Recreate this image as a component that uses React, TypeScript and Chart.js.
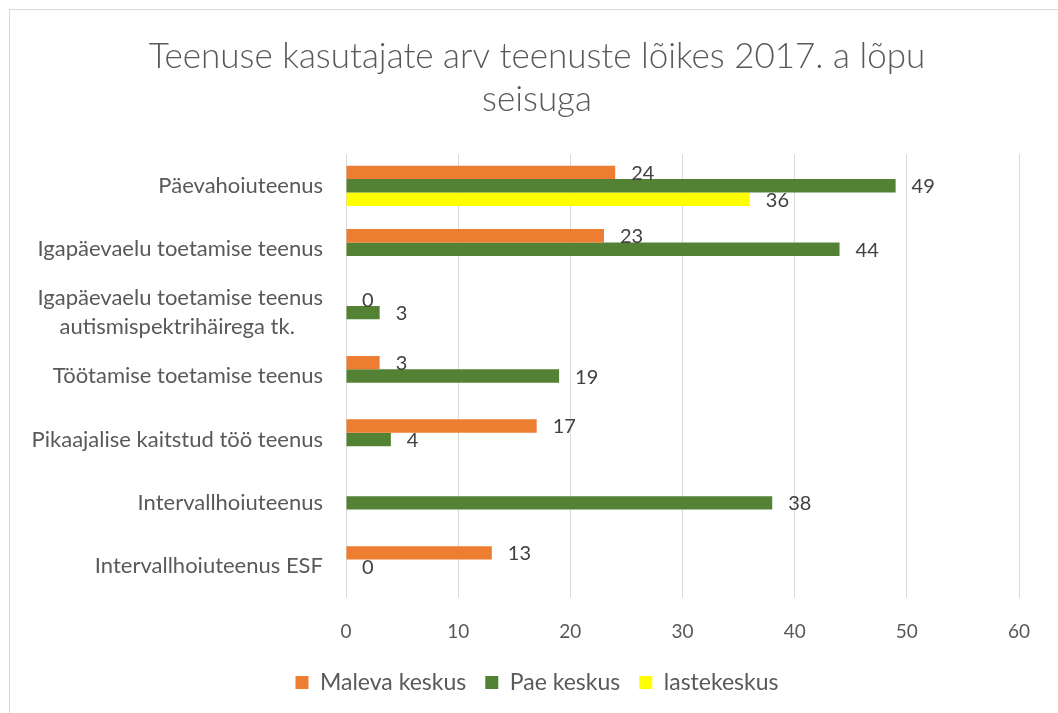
import React, { useEffect, useRef } from "react";
import { Chart, registerables } from "chart.js";

Chart.register(...registerables);

const categories: (string | string[])[] = [
  "Päevahoiuteenus",
  "Igapäevaelu toetamise teenus",
  ["Igapäevaelu toetamise teenus", "autismispektrihäirega tk.     "],
  "Töötamise toetamise teenus",
  "Pikaajalise kaitstud töö teenus",
  "Intervallhoiuteenus",
  "Intervallhoiuteenus ESF",
];
const malevaValues: (number | null)[] = [24, 23, 0, 3, 17, null, 13];
const paeValues: (number | null)[] = [49, 44, 3, 19, 4, 38, 0];
const lasteValues: (number | null)[] = [36, null, null, null, null, null, null];
const xTicks = [0, 10, 20, 30, 40, 50, 60];
const titleLines = ["Teenuse kasutajate arv teenuste lõikes 2017. a lõpu", "seisuga"];

const FONT = "Lato, 'Open Sans', sans-serif";
const TEXT = "#595959";

const valueLabels = {
  id: "valueLabels",
  afterDatasetsDraw(chart: any) {
    const ctx = chart.ctx;
    ctx.save();
    ctx.font = `20px ${FONT}`;
    ctx.fillStyle = "#404040";
    ctx.textAlign = "left";
    ctx.textBaseline = "middle";
    chart.data.datasets.forEach((ds: any, i: number) => {
      const meta = chart.getDatasetMeta(i);
      meta.data.forEach((el: any, j: number) => {
        const v = ds.data[j];
        if (v === null || v === undefined) return;
        ctx.fillText(String(v), el.x + 16, el.y + 1);
      });
    });
    ctx.restore();
  },
};

export default function App() {
  const ref = useRef<HTMLCanvasElement>(null);
  useEffect(() => {
    if (!ref.current) return;
    const chart = new Chart(ref.current, {
      type: "bar",
      data: {
        labels: categories,
        datasets: [
          { label: "Maleva keskus", data: malevaValues, backgroundColor: "#ED7D31" },
          { label: "Pae keskus", data: paeValues, backgroundColor: "#548235" },
          { label: "lastekeskus", data: lasteValues, backgroundColor: "#FFFF00" },
        ],
      },
      options: {
        indexAxis: "y",
        responsive: false,
        animation: false,
        devicePixelRatio: 1,
        datasets: { bar: { barPercentage: 1, categoryPercentage: 0.635 } },
        layout: { padding: { left: 16, right: 0, top: 20, bottom: 9 } },
        scales: {
          x: {
            min: 0,
            max: 60,
            afterBuildTicks: (s: any) => {
              s.ticks = xTicks.map((v) => ({ value: v }));
            },
            afterFit: (s: any) => {
              s.height = 54;
            },
            grid: { color: "#d9d9d9", drawTicks: false },
            border: { display: false },
            ticks: { padding: 22, color: TEXT, font: { family: FONT, size: 19 } },
          },
          y: {
            afterFit: (s: any) => {
              s.width = 330;
            },
            grid: { display: false, drawTicks: false },
            border: { display: false },
            ticks: { padding: 23, color: TEXT, font: { family: FONT, size: 22, lineHeight: 1.3 } },
          },
          yRight: {
            type: "linear",
            position: "right",
            afterFit: (s: any) => {
              s.width = 39;
            },
            grid: { display: false, drawTicks: false },
            border: { display: false },
            ticks: { display: false },
          },
        },
        plugins: {
          title: {
            display: true,
            text: titleLines,
            color: TEXT,
            font: { family: FONT, size: 35, weight: "300", lineHeight: 1.23 },
            padding: { top: 15, bottom: 33 },
          },
          legend: {
            position: "bottom",
            labels: {
              boxWidth: 13,
              boxHeight: 13,
              padding: 19,
              color: TEXT,
              font: { family: FONT, size: 23 },
            },
          },
          tooltip: { enabled: false },
        },
      },
      plugins: [valueLabels],
    });
    return () => chart.destroy();
  }, []);
  return (
    <div
      style={{
        position: "fixed",
        left: 0,
        top: 0,
        width: 1058,
        height: 713,
        overflow: "hidden",
        background: "#fff",
      }}
    >
      <div
        style={{
          position: "absolute",
          left: 9,
          top: 9,
          width: 1100,
          height: 800,
          border: "1px solid #d9d9d9",
        }}
      />
      <canvas
        ref={ref}
        width={1058}
        height={713}
        style={{ position: "absolute", left: 0, top: 0, width: 1058, height: 713 }}
      />
    </div>
  );
}
